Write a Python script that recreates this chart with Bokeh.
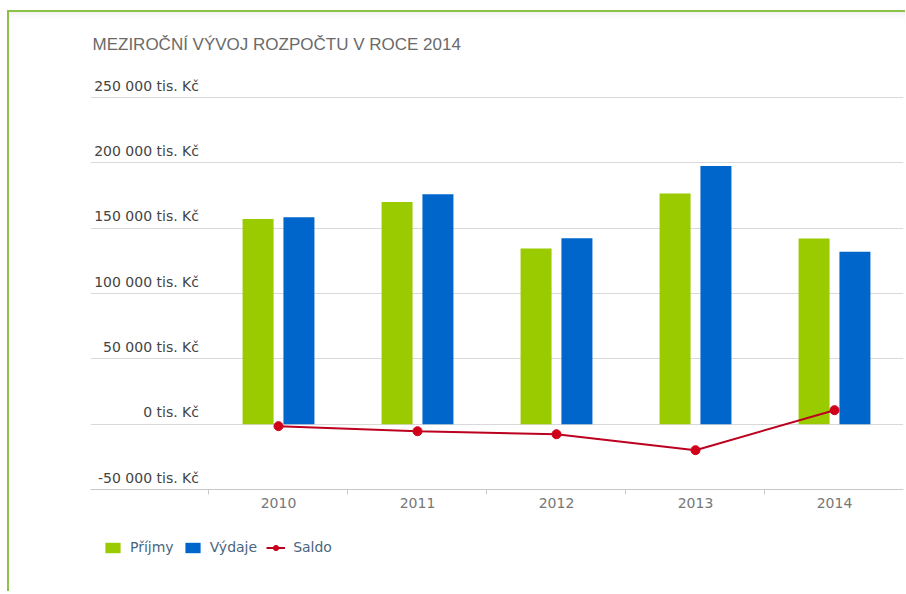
from bokeh.plotting import figure
from bokeh.models import ColumnDataSource, FixedTicker, Legend, LegendItem, Range1d
from bokeh.core.properties import value
from bokeh.embed import file_html
from bokeh.resources import INLINE

# ---- data ----
title_text = "MEZIROČNÍ VÝVOJ ROZPOČTU V ROCE 2014"
years = ["2010", "2011", "2012", "2013", "2014"]
prijmy = [157000, 170000, 134500, 176500, 142000]
vydaje = [158300, 176000, 142200, 197500, 132000]
saldo = [-1500, -5400, -7700, -19900, 10700]
y_ticks = [-50000, 0, 50000, 100000, 150000, 200000, 250000]
y_tick_labels = ["-50 000 tis. Kč", "0 tis. Kč", "50 000 tis. Kč", "100 000 tis. Kč",
                 "150 000 tis. Kč", "200 000 tis. Kč", "250 000 tis. Kč"]

GREEN = "#9aca00"
BLUE = "#0066cc"
RED = "#bc001f"

idx = list(range(len(years)))
src = ColumnDataSource(dict(
    idx=idx,
    xg=[i - 0.147 for i in idx],
    xb=[i + 0.147 for i in idx],
    prijmy=prijmy, vydaje=vydaje, saldo=saldo, year=years,
))
lab_src = ColumnDataSource(dict(y=y_ticks, text=y_tick_labels, x=[-0.5] * len(y_ticks)))

PX = 765.306  # value units per pixel
p = figure(frame_width=813, frame_height=491, output_backend="svg", toolbar_location=None,
           x_range=Range1d(-1.3525, 4.4964),
           y_range=Range1d(y_ticks[-1] - 468 * PX, y_ticks[-1] + 23 * PX),
           min_border_left=81, min_border_right=2, min_border_top=28, min_border_bottom=26,
           title=title_text)
p.styles = {"border-top": "2px solid #8dc047", "border-left": "2px solid #8dc047",
            "margin-left": "7px", "margin-top": "10px",
            "box-shadow": "inset 0 6px 6px -4px rgba(0,0,0,0.07)"}
p.outline_line_color = None
p.background_fill_color = "white"
p.border_fill_alpha = 0

p.title.text_font = "Liberation Sans"
p.title.text_font_size = "17px"
p.title.text_font_style = "normal"
p.title.text_color = "#6a6a6a"
p.title.align = "left"
p.title.offset = 2
p.title.standoff = 41

# grid
p.xgrid.visible = False
p.ygrid.ticker = FixedTicker(ticks=y_ticks)
p.ygrid.grid_line_color = "#d9d9d9"
p.ygrid.grid_line_width = 1

# y axis hidden, labels drawn above gridlines
p.yaxis.visible = False
p.text(x="x", y="y", text="text", source=lab_src, x_offset=-10, y_offset=-12,
       text_align="right", text_baseline="alphabetic",
       text_font=value("DejaVu Sans"), text_font_size="14px", text_color="#444444")

# x axis, drawn at the lowest gridline
xa = p.xaxis[0]
xa.fixed_location = y_ticks[0]
xa.ticker = FixedTicker(ticks=idx, minor_ticks=[i - 0.5 for i in idx] + [idx[-1] + 0.5])
xa.major_label_overrides = {i: y for i, y in zip(idx, years)}
xa.major_tick_out = 0
xa.major_tick_in = 0
xa.minor_tick_out = 5
xa.minor_tick_in = 0
xa.minor_tick_line_color = "#c8c8c8"
xa.axis_line_color = "#c8c8c8"
xa.major_label_standoff = 3
xa.major_label_text_font = "DejaVu Sans"
xa.major_label_text_font_size = "14px"
xa.major_label_text_color = "#777777"

# bars
g = p.vbar(x="xg", top="prijmy", bottom=0, width=0.223, source=src,
           fill_color=GREEN, line_color=None)
b = p.vbar(x="xb", top="vydaje", bottom=0, width=0.223, source=src,
           fill_color=BLUE, line_color=None)

# saldo line
ln = p.line(x="idx", y="saldo", source=src, line_color=RED, line_width=2)
mk = p.scatter(x="idx", y="saldo", source=src, size=9, marker="circle",
               fill_color="#d0001a", line_color="#d0001a")

legend = Legend(items=[
    LegendItem(label="Příjmy", renderers=[g]),
    LegendItem(label="Výdaje", renderers=[b]),
    LegendItem(label="Saldo", renderers=[ln, mk]),
], orientation="horizontal", location=(13, 10))
legend.label_text_font = "DejaVu Sans"
legend.label_text_font_size = "14px"
legend.label_text_color = "#4a6580"
legend.glyph_width = 19
legend.glyph_height = 13
legend.label_standoff = 8
legend.spacing = 9
legend.margin = 0
legend.padding = 0
legend.border_line_color = None
legend.background_fill_alpha = 0
p.add_layout(legend, "center")

open("out.html", "w").write(file_html(p, INLINE))
